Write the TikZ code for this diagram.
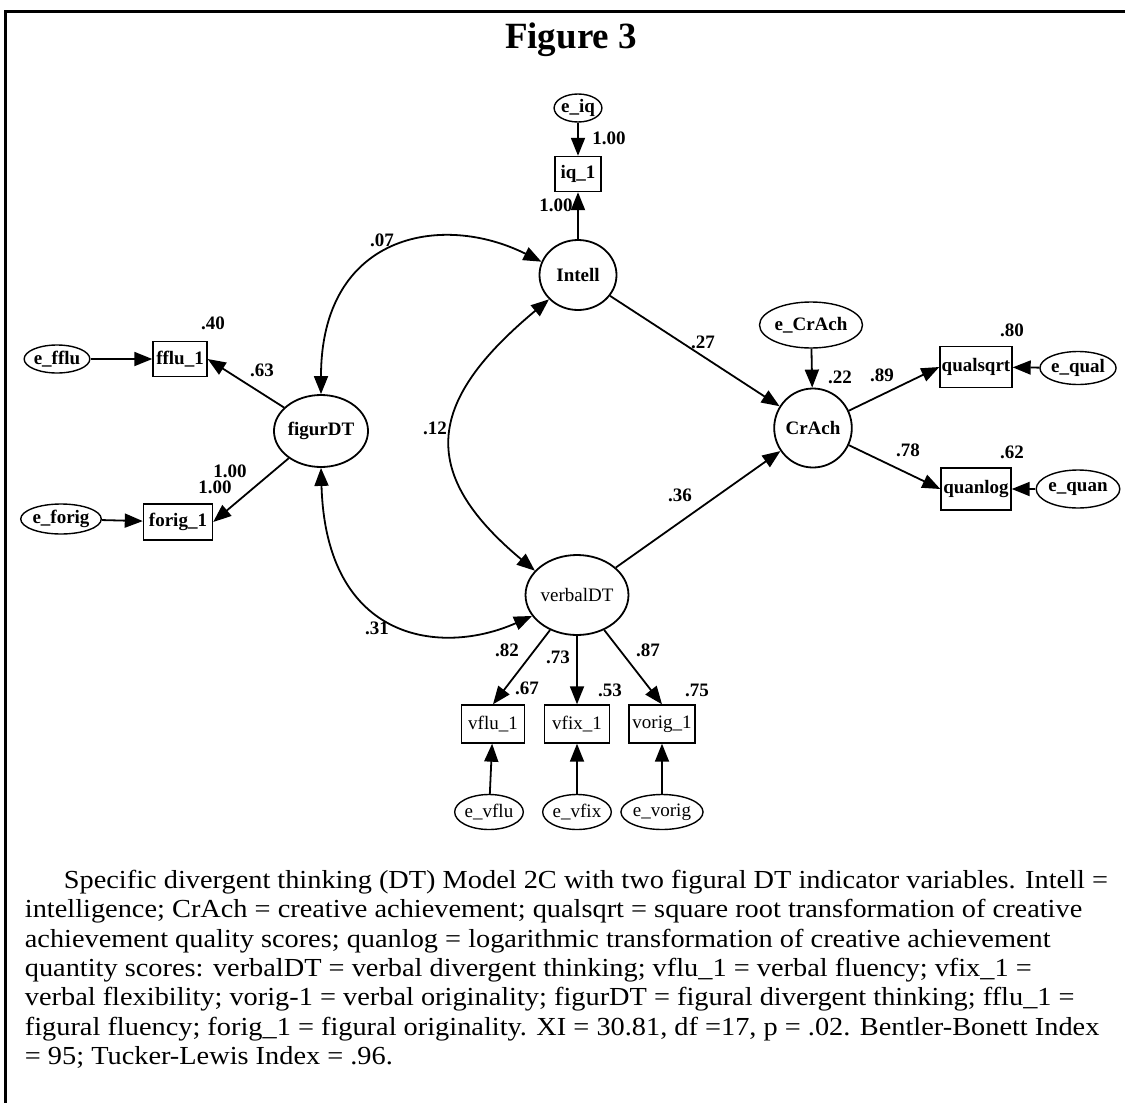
\documentclass[tikz,border=0pt]{standalone}
\usepackage{fontspec}
\setmainfont{Liberation Serif}
\newfontfamily\capfont[FakeStretch=1.09]{Liberation Serif}
\usetikzlibrary{arrows.meta,shapes.geometric}

\begin{document}
\begin{tikzpicture}[x=1pt,y=-1pt,line width=1.8pt,
	>={Triangle[length=18pt,width=14pt]},
	latent/.style={draw,ellipse,inner sep=0pt,font=\fontsize{19}{19}\selectfont\bfseries},
	obs/.style={draw,rectangle,inner sep=1pt,minimum height=36pt,line width=1.4pt,font=\fontsize{19}{19}\selectfont\bfseries},
	err/.style={draw,ellipse,inner sep=0pt,line width=1.4pt,font=\fontsize{19}{19}\selectfont\bfseries},
	thin/.style={font=\fontsize{19}{19}\selectfont},
	coef/.style={inner sep=0pt,font=\fontsize{19}{19}\selectfont\bfseries}]
	\useasboundingbox (0,0) rectangle (1125,1103);
	\draw[line width=3pt] (5,1103) -- (5,11) -- (1125,11);
	\node[anchor=base,font=\fontsize{37}{37}\selectfont\bfseries] (title) at (571,48) {Figure 3};
	% latent variables
	\node[latent,minimum width=77pt,minimum height=70pt] (Intell) at (578,275) {Intell};
	\node[latent,minimum width=82pt,minimum height=72pt] (figurDT) at (321,431) {figurDT};
	\node[latent,minimum width=77pt,minimum height=79pt] (CrAch) at (813,428) {CrAch};
	\node[latent,thin,minimum width=74pt,minimum height=80pt] (verbalDT) at (577,595) {verbalDT};
	% indicators
	\node[obs,minimum width=46pt,minimum height=35pt] (iq_1) at (578,174) {iq\_1};
	\node[obs,minimum width=54pt,minimum height=35pt] (fflu_1) at (180,359) {fflu\_1};
	\node[obs,minimum width=69pt] (forig_1) at (178,522) {forig\_1};
	\node[obs,minimum width=72pt,minimum height=41pt] (qualsqrt) at (976,367) {qualsqrt};
	\node[obs,minimum width=70pt,minimum height=42pt] (quanlog) at (976,489) {quanlog};
	\node[obs,thin,minimum width=63pt,minimum height=38pt] (vflu_1) at (493,724) {vflu\_1};
	\node[obs,thin,minimum width=65pt,minimum height=38pt] (vfix_1) at (577,724) {vfix\_1};
	\node[obs,thin,minimum width=66pt,minimum height=38pt] (vorig_1) at (662,724) {vorig\_1};
	% error terms
	\node[err,minimum width=40pt,minimum height=28pt] (e_iq) at (578,108) {e\_iq};
	\node[err,minimum width=61pt,minimum height=28pt] (e_fflu) at (57,359) {e\_fflu};
	\node[err,minimum width=68pt,minimum height=30pt] (e_forig) at (61,519) {e\_forig};
	\node[err,minimum width=85pt,minimum height=46pt] (e_CrAch) at (811,325) {e\_CrAch};
	\node[err,minimum width=67pt,minimum height=33pt] (e_qual) at (1078,368) {e\_qual};
	\node[err,minimum width=67pt,minimum height=38pt] (e_quan) at (1078,489) {e\_quan};
	\node[err,thin,minimum width=62pt,minimum height=35pt] (e_vflu) at (489,812) {e\_vflu};
	\node[err,thin,minimum width=65pt,minimum height=35pt] (e_vfix) at (577,812) {e\_vfix};
	\node[err,thin,minimum width=65pt,minimum height=35pt] (e_vorig) at (662,812) {e\_vorig};
	% paths
	\draw[->] (e_iq) -- (iq_1);
	\draw[->] (Intell) -- (iq_1);
	\draw[->] (e_fflu) -- (fflu_1);
	\draw[->] (e_forig) -- (forig_1);
	\draw[->] (figurDT) -- (fflu_1.east);
	\draw[->] (figurDT) -- (forig_1.east);
	\draw[->] (Intell) -- (CrAch);
	\draw[->] (verbalDT) -- (CrAch);
	\draw[->] (e_CrAch) -- (CrAch);
	\draw[->] (CrAch) -- (qualsqrt.west);
	\draw[->] (CrAch) -- (quanlog.west);
	\draw[->] (e_qual) -- (qualsqrt);
	\draw[->] (e_quan) -- (quanlog);
	\draw[->] (verbalDT) -- (vflu_1.north);
	\draw[->] (verbalDT) -- (vfix_1);
	\draw[->] (verbalDT) -- (vorig_1.north);
	\draw[->] (e_vflu) -- (vflu_1);
	\draw[->] (e_vfix) -- (vfix_1);
	\draw[->] (e_vorig) -- (vorig_1);
	% covariances
	\draw[<->] (figurDT.north) .. controls +(0,-160) and +(-100,-50) .. (Intell.160);
	\draw[<->] (Intell.220) .. controls +(-120,100) and +(-120,-100) .. (verbalDT.150);
	\draw[<->] (figurDT.south) .. controls +(5,175) and +(-90,40) .. (verbalDT.205);
	% coefficients
	\node[coef] (w_eiq) at (609,138) {1.00};
	\node[coef] (w_iq) at (556,205) {1.00};
	\node[coef] (r_fi) at (382,240) {.07};
	\node[coef] (s_fflu) at (213,323) {.40};
	\node[coef] (w_fflu) at (262,370) {.63};
	\node[coef] (w_forig) at (230,471) {1.00};
	\node[coef] (s_forig) at (215,487) {1.00};
	\node[coef] (r_iv) at (435,428) {.12};
	\node[coef] (b_ic) at (703,342) {.27};
	\node[coef] (s_crach) at (840,377) {.22};
	\node[coef] (w_qual) at (882,375) {.89};
	\node[coef] (s_qual) at (1012,330) {.80};
	\node[coef] (w_quan) at (908,450) {.78};
	\node[coef] (s_quan) at (1012,452) {.62};
	\node[coef] (b_vc) at (680,495) {.36};
	\node[coef] (r_fv) at (377,628) {.31};
	\node[coef] (w_vflu) at (507,650) {.82};
	\node[coef] (w_vfix) at (558,657) {.73};
	\node[coef] (w_vorig) at (648,650) {.87};
	\node[coef] (s_vflu) at (527,688) {.67};
	\node[coef] (s_vfix) at (610,690) {.53};
	\node[coef] (s_vorig) at (697,690) {.75};
	% caption
	\node[anchor=north west,align=left,inner sep=0pt,font=\capfont\fontsize{26}{29.4}\selectfont] (caption) at (24,869)
	{\hspace*{39pt}Specific divergent thinking (DT) Model 2C with two figural DT indicator variables. Intell =\\
	intelligence; CrAch = creative achievement; qualsqrt = square root transformation of creative\\
	achievement quality scores; quanlog = logarithmic transformation of creative achievement\\
	quantity scores: verbalDT = verbal divergent thinking; vflu\_1 = verbal fluency; vfix\_1 =\\
	verbal flexibility; vorig-1 = verbal originality; figurDT = figural divergent thinking; fflu\_1 =\\
	figural fluency; forig\_1 = figural originality. XI = 30.81, df =17, p = .02. Bentler-Bonett Index\\
	= 95; Tucker-Lewis Index = .96.};
\end{tikzpicture}
\end{document}
